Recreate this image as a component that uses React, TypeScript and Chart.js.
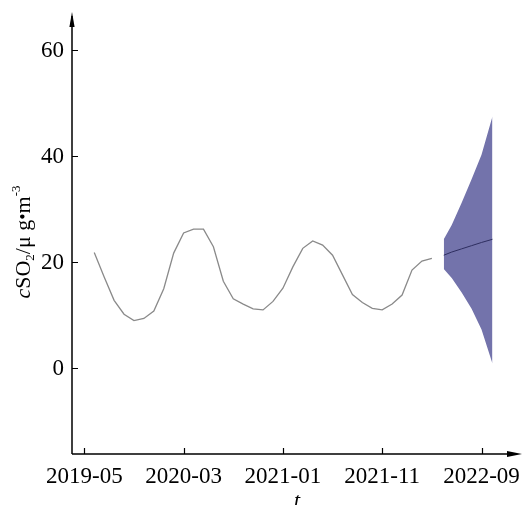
import React, { useEffect, useRef } from "react";
import { Chart, registerables } from "chart.js";

Chart.register(...registerables);

// Month index: 0 = 2019-05
const tickMonths = [0, 10, 20, 30, 40];
const tickLabels = ["2019-05", "2020-03", "2021-01", "2021-11", "2022-09"];
const yTicks = [0, 20, 40, 60];

const histMonths = [
  1, 2, 3, 4, 5, 6, 7, 8, 9, 10, 11, 12, 13, 14, 15, 16, 17, 18, 19, 20, 21, 22,
  23, 24, 25, 26, 27, 28, 29, 30, 31, 32, 33, 34, 35,
];
const histValues = [
  21.8, 17.2, 12.8, 10.2, 9.0, 9.4, 10.8, 15.0, 21.7, 25.5, 26.2, 26.2, 22.9,
  16.4, 13.1, 12.1, 11.2, 11.0, 12.6, 15.1, 19.1, 22.6, 24.0, 23.2, 21.3, 17.6,
  13.9, 12.4, 11.3, 11.0, 12.1, 13.8, 18.5, 20.2, 20.7,
];

const fcMonths = [36.2, 37, 38, 39, 40, 41.1];
const fcMean = [21.3, 21.9, 22.5, 23.1, 23.7, 24.3];
const fcUpper = [24.3, 27.0, 31.2, 35.6, 40.2, 47.4];
const fcLower = [18.7, 17.0, 14.3, 11.2, 7.3, 0.9];

const FONT = "'Liberation Serif', 'Times New Roman', serif";

const decor = {
  id: "decor",
  afterDraw(chart: any) {
    const ctx = chart.ctx as CanvasRenderingContext2D;
    const xs = chart.scales.x;
    const ys = chart.scales.y;
    const ca = chart.chartArea;
    const x0 = ca.left;
    const y0 = ca.bottom;
    ctx.save();
    ctx.strokeStyle = "#000";
    ctx.fillStyle = "#000";
    ctx.lineWidth = 1.5;
    // axes lines
    ctx.beginPath();
    ctx.moveTo(x0, y0);
    ctx.lineTo(x0, ca.top + 4);
    ctx.moveTo(x0, y0);
    ctx.lineTo(ca.right + 4, y0);
    ctx.stroke();
    // arrows
    ctx.beginPath();
    ctx.moveTo(x0, ca.top);
    ctx.lineTo(x0 - 2.6, ca.top + 15);
    ctx.lineTo(x0 + 2.6, ca.top + 15);
    ctx.closePath();
    ctx.fill();
    ctx.beginPath();
    ctx.moveTo(ca.right + 10, y0);
    ctx.lineTo(ca.right - 5, y0 - 3);
    ctx.lineTo(ca.right - 5, y0 + 3);
    ctx.closePath();
    ctx.fill();
    // ticks
    ctx.lineWidth = 1.2;
    ctx.beginPath();
    tickMonths.forEach((m) => {
      const px = Math.round(xs.getPixelForValue(m)) + 0.5;
      ctx.moveTo(px, y0);
      ctx.lineTo(px, y0 - 6);
    });
    yTicks.forEach((v) => {
      const py = Math.round(ys.getPixelForValue(v)) + 0.5;
      ctx.moveTo(x0, py);
      ctx.lineTo(x0 + 6, py);
    });
    ctx.stroke();
    // tick labels
    ctx.font = `23px ${FONT}`;
    ctx.textAlign = "center";
    ctx.textBaseline = "middle";
    tickMonths.forEach((m, i) => {
      ctx.fillText(tickLabels[i], xs.getPixelForValue(m), 477);
    });
    ctx.textAlign = "right";
    yTicks.forEach((v) => {
      ctx.fillText(String(v), 64, ys.getPixelForValue(v) + 1);
    });
    // x title
    ctx.textAlign = "center";
    ctx.textBaseline = "alphabetic";
    ctx.font = `italic 22px ${FONT}`;
    ctx.fillText("t", 297, 507);
    // y title with sub/superscripts
    const segs = [
      { t: "c", f: `italic 22px ${FONT}`, dy: 0 },
      { t: "SO", f: `22px ${FONT}`, dy: 0 },
      { t: "2", f: `13px ${FONT}`, dy: 4 },
      { t: "/μ g", f: `22px ${FONT}`, dy: 0 },
      { t: "•", f: `18px ${FONT}`, dy: -1 },
      { t: "m", f: `22px ${FONT}`, dy: 0 },
      { t: "-3", f: `13px ${FONT}`, dy: -10 },
    ];
    let total = 0;
    const widths = segs.map((s) => {
      ctx.font = s.f;
      const w = ctx.measureText(s.t).width;
      total += w;
      return w;
    });
    ctx.translate(23, 242);
    ctx.rotate(-Math.PI / 2);
    ctx.textAlign = "left";
    let cx = -total / 2;
    segs.forEach((s, i) => {
      ctx.font = s.f;
      ctx.fillText(s.t, cx, 7 + s.dy);
      cx += widths[i];
    });
    ctx.restore();
  },
};

export default function App() {
  const ref = useRef<HTMLCanvasElement>(null);
  useEffect(() => {
    if (!ref.current) return;
    const chart = new Chart(ref.current, {
      type: "line",
      data: {
        datasets: [
          {
            label: "forecast",
            data: fcMonths.map((m, i) => ({ x: m, y: fcMean[i] })),
            borderColor: "#2e2e60",
            borderWidth: 1,
            pointRadius: 0,
            fill: false,
            order: 0,
          },
          {
            label: "history",
            data: histMonths.map((m, i) => ({ x: m, y: histValues[i] })),
            borderColor: "#8a8a8a",
            borderWidth: 1.3,
            pointRadius: 0,
            fill: false,
            order: 1,
          },
          {
            label: "lower",
            data: fcMonths.map((m, i) => ({ x: m, y: fcLower[i] })),
            borderWidth: 0,
            borderColor: "rgba(0,0,0,0)",
            pointRadius: 0,
            fill: false,
            order: 3,
          },
          {
            label: "upper",
            data: fcMonths.map((m, i) => ({ x: m, y: fcUpper[i] })),
            borderWidth: 0,
            borderColor: "rgba(0,0,0,0)",
            backgroundColor: "#7373ab",
            pointRadius: 0,
            fill: "-1",
            order: 2,
          },
        ],
      },
      options: {
        animation: false,
        responsive: false,
        devicePixelRatio: 1,
        layout: { padding: { left: 72, right: 12, top: 12, bottom: 51 } },
        plugins: {
          legend: { display: false },
          tooltip: { enabled: false },
        },
        scales: {
          x: { type: "linear", min: -1.24, max: 43.07, display: false },
          y: { type: "linear", min: -16.13, max: 67.1, display: false },
        },
      },
      plugins: [decor],
    });
    return () => chart.destroy();
  }, []);
  return (
    <div style={{ position: "absolute", left: 0, top: 0, width: 524, height: 505, background: "#fff" }}>
      <canvas ref={ref} width={524} height={505} />
    </div>
  );
}
